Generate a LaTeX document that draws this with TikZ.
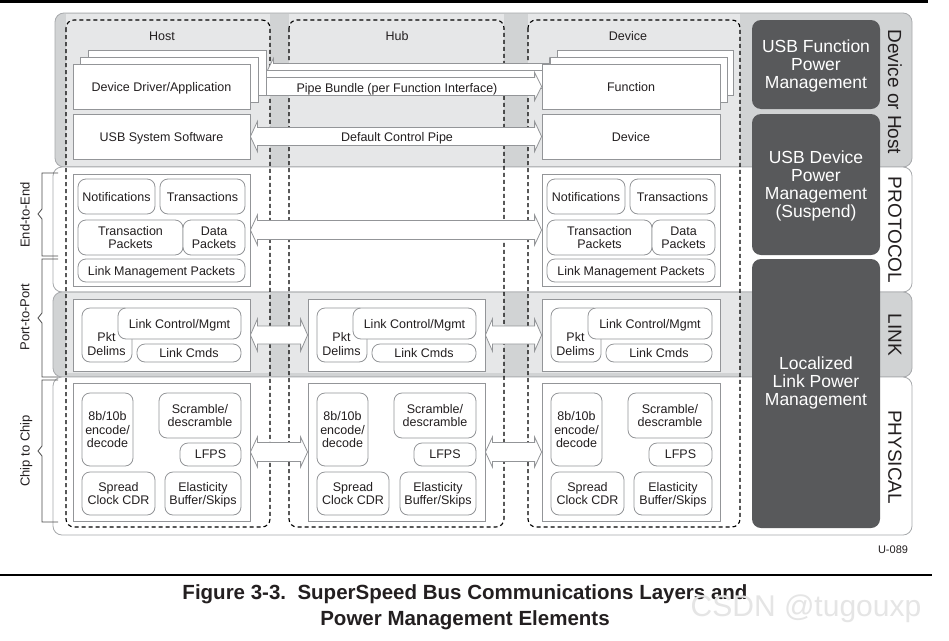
\documentclass[tikz,border=0pt]{standalone}
\usepackage{fontspec}
\setmainfont{Liberation Sans}
\usetikzlibrary{calc}
\definecolor{bandgray}{HTML}{D1D3D4}
\definecolor{colgray}{HTML}{E6E7E8}
\definecolor{darkfill}{HTML}{58595B}
\definecolor{boxline}{HTML}{939598}
\definecolor{bandline}{HTML}{A7A9AC}
\definecolor{txt}{HTML}{231F20}
\pgfdeclarelayer{bg}\pgfdeclarelayer{arr}\pgfsetlayers{bg,arr,main}
\newcommand{\mkbox}[7]{\node[#1, minimum width={(#5-#3)*1pt}, minimum height={(#6-#4)*1pt}] (#2) at ({(#3+#5)/2},{(#4+#6)/2}) {#7};}
\newcommand{\dblarrow}[4]{%
  \path[bigarrow] let \p1=(#1.east), \p2=(#2.west) in
   (\x1,\y1) -- (\x1+7pt,\y1+#4pt) -- (\x1+7pt,\y1+#3pt) -- (\x2-7pt,\y1+#3pt) -- (\x2-7pt,\y1+#4pt)
   -- (\x2,\y1) -- (\x2-7pt,\y1-#4pt) -- (\x2-7pt,\y1-#3pt) -- (\x1+7pt,\y1-#3pt) -- (\x1+7pt,\y1-#4pt) -- cycle;}
\tikzset{
  every node/.style={text=txt, font=\fontsize{12.5}{13.5}\selectfont, inner sep=0pt, align=center, text depth=0pt},
  plainbox/.style={draw=boxline, fill=white, line width=0.8pt},
  rbox/.style={draw=boxline, fill=white, line width=0.8pt, rounded corners=8pt},
  darkbox/.style={fill=darkfill, rounded corners=9pt, text=white, font=\fontsize{17.5}{18}\selectfont},
  bigarrow/.style={draw=boxline, fill=white, line width=0.8pt},
  bandbox/.style={draw=bandline, line width=0.8pt, rounded corners=9pt},
  dashcol/.style={draw=black, line width=1.1pt, dash pattern=on 4pt off 3pt, rounded corners=8pt},
  layerlabel/.style={rotate=-90, font=\fontsize{19}{20}\selectfont},
  sidelabel/.style={rotate=90, font=\fontsize{13}{14}\selectfont},
  bracket/.style={draw=black!70, line width=0.8pt},
}
\begin{document}
\begin{tikzpicture}[x=1pt,y=-1pt]
\useasboundingbox (0,0) rectangle (949,640);

% ---------- background bands and columns ----------
\begin{pgfonlayer}{bg}
  \fill[white] (0,0) rectangle (949,640);
  \draw[bandbox, fill=bandgray] (55,13) rectangle (912,167);
  \fill[colgray] (66,14) rectangle (270,166);
  \fill[colgray] (289,14) rectangle (504,166);
  \fill[colgray] (528,14) rectangle (740,166);
  \draw[bandbox, fill=white] (53,167) rectangle (912,292);
  \draw[bandbox, fill=bandgray] (53,292) rectangle (912,377);
  \fill[colgray] (66,293) rectangle (270,373);
  \fill[colgray] (289,293) rectangle (504,373);
  \fill[colgray] (528,293) rectangle (740,373);
  \draw[bandbox, fill=white] (53,377) rectangle (912,535);
  \draw[dashcol] (66,20) rectangle (270,527);
  \draw[dashcol] (289,20) rectangle (504,527);
  \draw[dashcol] (528,20) rectangle (740,527);
\end{pgfonlayer}

% ---------- column titles ----------
\node (tHost) at (162,36) {Host};
\node (tHub) at (397,36) {Hub};
\node (tDev) at (628,36) {Device};

% ---------- host top boxes ----------
\mkbox{plainbox}{hostL3}{88}{50}{266}{95}{}
\mkbox{plainbox}{hostL2}{80}{57}{258}{102}{}
\mkbox{plainbox}{hostDD}{73}{64}{250}{109}{Device Driver/Application}
\mkbox{plainbox}{hostSW}{73}{114}{250}{159}{USB System Software}
% ---------- device top boxes ----------
\mkbox{plainbox}{devL3}{557}{50}{733}{95}{}
\mkbox{plainbox}{devL2}{550}{57}{727}{102}{}
\mkbox{plainbox}{devFn}{542}{64}{720}{109}{Function}
\mkbox{plainbox}{devDv}{542}{114}{720}{159}{Device}

% ---------- protocol ----------
\mkbox{plainbox}{hostP}{73}{174}{250}{286}{}
\mkbox{rbox}{hNot}{78}{179}{155}{214}{Notifications}
\mkbox{rbox}{hTra}{160}{179}{245}{214}{Transactions}
\mkbox{rbox}{hTP}{78}{220}{183}{255}{Transaction\\Packets}
\mkbox{rbox}{hDP}{183}{220}{245}{255}{Data\\Packets}
\mkbox{rbox}{hLMP}{78}{259}{245}{282}{Link Management Packets}

\mkbox{plainbox}{devP}{542}{174}{720}{286}{}
\mkbox{rbox}{dNot}{547}{179}{625}{214}{Notifications}
\mkbox{rbox}{dTra}{630}{179}{715}{214}{Transactions}
\mkbox{rbox}{dTP}{547}{220}{652}{255}{Transaction\\Packets}
\mkbox{rbox}{dDP}{652}{220}{715}{255}{Data\\Packets}
\mkbox{rbox}{dLMP}{547}{259}{715}{282}{Link Management Packets}

% ---------- link ----------
\mkbox{plainbox}{hostL}{73}{299}{250}{371}{}
\mkbox{rbox}{hPD}{82}{308}{132}{362}{}
\mkbox{rbox}{hLC}{118}{308}{241}{339}{Link Control/Mgmt}
\mkbox{rbox}{hLK}{137}{344}{241}{362}{Link Cmds}
\node (hPDt) at (106.5,344) {Pkt\\Delims};

\mkbox{plainbox}{hubL}{308}{299}{485}{371}{}
\mkbox{rbox}{uPD}{317}{308}{367}{362}{}
\mkbox{rbox}{uLC}{353}{308}{476}{339}{Link Control/Mgmt}
\mkbox{rbox}{uLK}{372}{344}{476}{362}{Link Cmds}
\node (uPDt) at (341.5,344) {Pkt\\Delims};

\mkbox{plainbox}{devL}{542}{299}{720}{371}{}
\mkbox{rbox}{dPD}{551}{308}{601}{362}{}
\mkbox{rbox}{dLC}{588}{308}{712}{339}{Link Control/Mgmt}
\mkbox{rbox}{dLK}{606}{344}{712}{362}{Link Cmds}
\node (dPDt) at (575.5,344) {Pkt\\Delims};

% ---------- physical ----------
\mkbox{plainbox}{hostY}{73}{383}{250}{521}{}
\mkbox{rbox}{h8b}{82}{393}{133}{466}{8b/10b\\encode/\\decode}
\mkbox{rbox}{hSc}{159}{393}{241}{438}{Scramble/\\descramble}
\mkbox{rbox}{hLF}{180}{443}{241}{466}{LFPS}
\mkbox{rbox}{hSp}{82}{472}{155}{515}{Spread\\Clock CDR}
\mkbox{rbox}{hEl}{165}{472}{241}{515}{Elasticity\\Buffer/Skips}

\mkbox{plainbox}{hubY}{308}{383}{485}{521}{}
\mkbox{rbox}{u8b}{317}{393}{368}{466}{8b/10b\\encode/\\decode}
\mkbox{rbox}{uSc}{394}{393}{476}{438}{Scramble/\\descramble}
\mkbox{rbox}{uLF}{414}{443}{476}{466}{LFPS}
\mkbox{rbox}{uSp}{317}{472}{389}{515}{Spread\\Clock CDR}
\mkbox{rbox}{uEl}{400}{472}{476}{515}{Elasticity\\Buffer/Skips}

\mkbox{plainbox}{devY}{542}{383}{720}{521}{}
\mkbox{rbox}{d8b}{551}{393}{602}{466}{8b/10b\\encode/\\decode}
\mkbox{rbox}{dSc}{628}{393}{712}{438}{Scramble/\\descramble}
\mkbox{rbox}{dLF}{649}{443}{712}{466}{LFPS}
\mkbox{rbox}{dSp}{551}{472}{624}{515}{Spread\\Clock CDR}
\mkbox{rbox}{dEl}{634}{472}{712}{515}{Elasticity\\Buffer/Skips}

% ---------- block arrows ----------
\begin{pgfonlayer}{arr}
  \dblarrow{hostL3}{devL3}{9}{14}
  \dblarrow{hostL2}{devL2}{9}{14}
  \dblarrow{hostDD}{devFn}{9}{14}
  \dblarrow{hostSW}{devDv}{9}{15}
  \dblarrow{hostP}{devP}{9.5}{15}
  \dblarrow{hostL}{hubL}{9}{16}
  \dblarrow{hubL}{devL}{9}{16}
  \dblarrow{hostY}{hubY}{9.5}{15}
  \dblarrow{hubY}{devY}{9.5}{15}
\end{pgfonlayer}
\node (pipeT) at (397,87.5) {Pipe Bundle (per Function Interface)};
\node (dcpT) at (397,137) {Default Control Pipe};

% ---------- power management boxes ----------
\mkbox{darkbox}{pmF}{752}{20}{880}{109}{USB Function\\Power\\Management}
\mkbox{darkbox}{pmD}{752}{114}{880}{255}{USB Device\\Power\\Management\\(Suspend)}
\mkbox{darkbox}{pmL}{752}{259}{880}{528}{}
\node[text=white, font=\fontsize{17.5}{18}\selectfont] (pmLt) at (816,381) {Localized\\Link Power\\Management};

% ---------- layer labels ----------
\node[layerlabel] (lDH) at (895,92) {Device or Host};
\node[layerlabel] (lPR) at (895,230) {PROTOCOL};
\node[layerlabel] (lLK) at (895,335) {LINK};
\node[layerlabel] (lPH) at (895,457) {PHYSICAL};

% ---------- side brackets ----------
\draw[bracket] (58,173) -- (42,173) -- (42,209) -- (38,214) -- (42,219) -- (42,256) -- (58,256);
\draw[bracket] (58,259) -- (42,259) -- (42,313) -- (38,318) -- (42,323) -- (42,377) -- (58,377);
\draw[bracket] (58,380) -- (42,380) -- (42,446) -- (38,451) -- (42,456) -- (42,522) -- (58,522);
\node[sidelabel] (sE) at (25,215) {End-to-End};
\node[sidelabel] (sP) at (25,317) {Port-to-Port};
\node[sidelabel] (sC) at (25,451) {Chip to Chip};

% ---------- frame, caption ----------
\node[font=\fontsize{11}{12}\selectfont] (uid) at (893,550) {U-089};
\draw[line width=2.2pt] (0,1.5) -- (928,1.5);
\draw[line width=2pt] (0,575) -- (932,575);
\node[font=\bfseries\fontsize{20.5}{26}\selectfont] (cap) at (465,605) {Figure 3-3.\ \ SuperSpeed Bus Communications Layers and\\Power Management Elements};
\node[text=black!10, font=\fontsize{30}{30}\selectfont] (wm) at (806,606) {CSDN @tugouxp};
\end{tikzpicture}
\end{document}
